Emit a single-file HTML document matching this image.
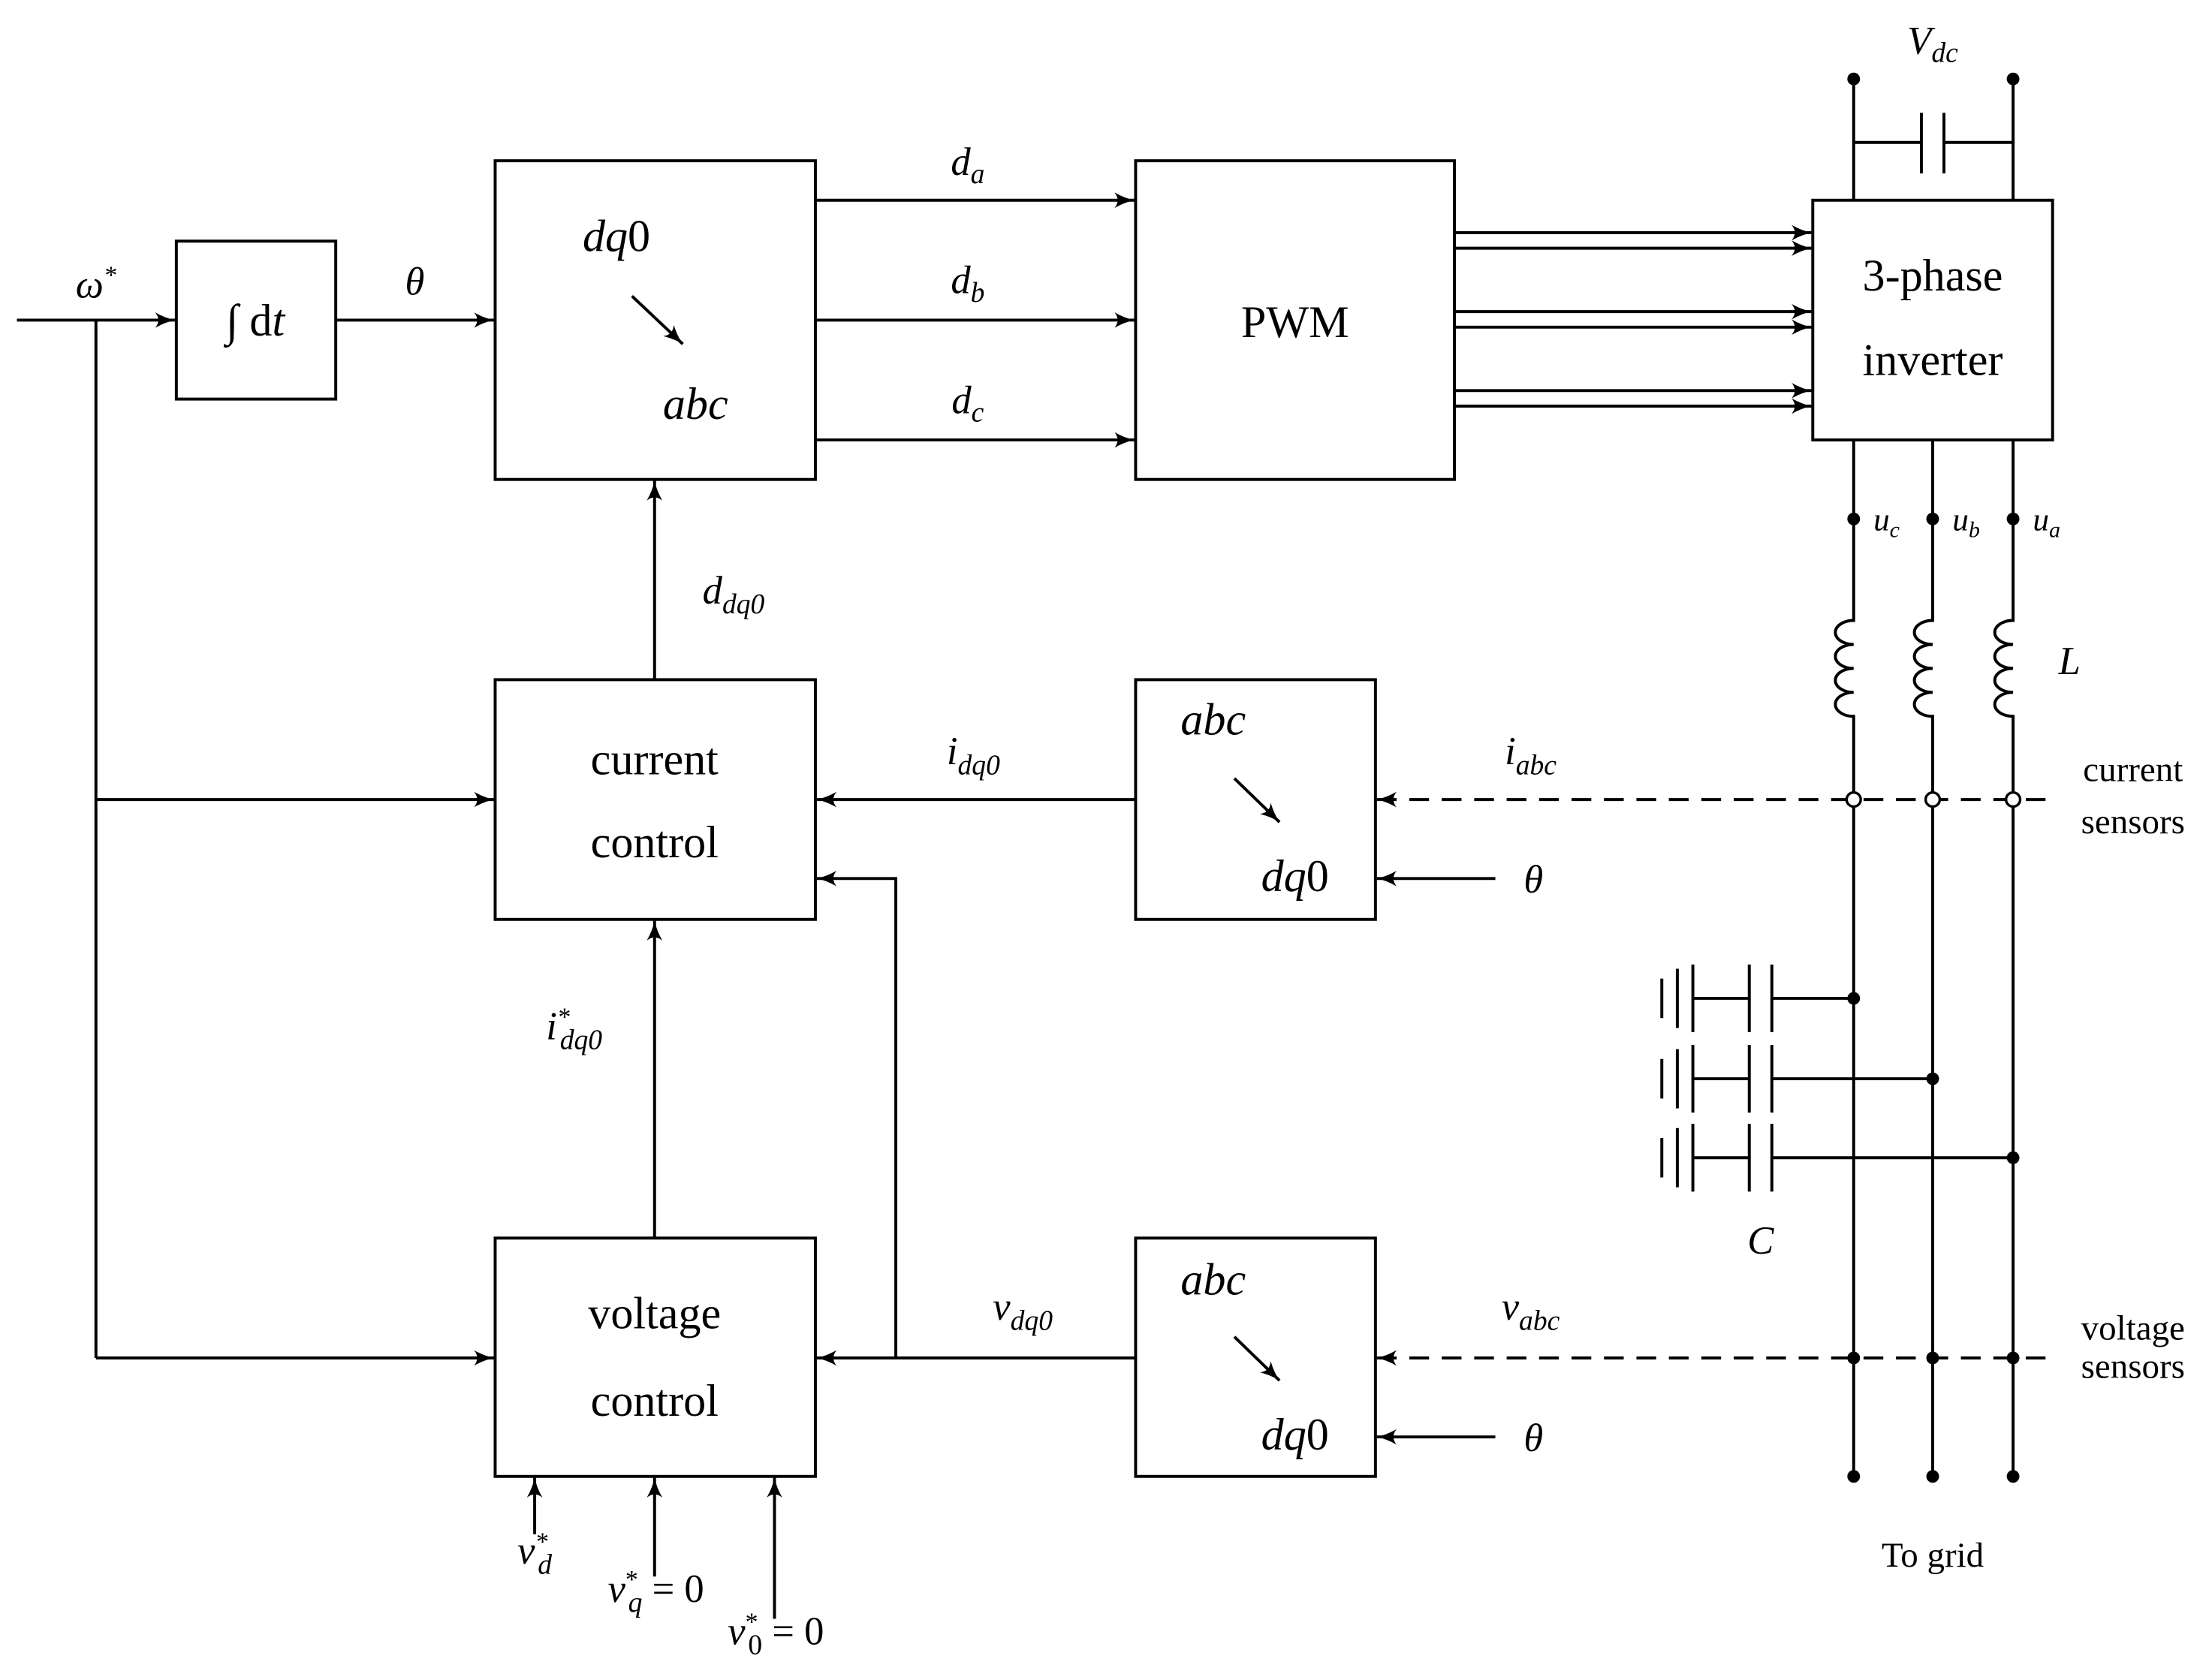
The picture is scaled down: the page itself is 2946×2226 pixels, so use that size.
<!DOCTYPE html>
<html><head><meta charset="utf-8"><style>
html,body{margin:0;padding:0;background:#fff}
svg{display:block}
text{font-family:"Liberation Serif",serif;fill:#000}
.m{font-style:italic}
</style></head><body>
<svg width="2946" height="2226" viewBox="0 0 1568 1185" preserveAspectRatio="none" xmlns="http://www.w3.org/2000/svg">
<defs>
<marker id="a" markerWidth="16" markerHeight="12" refX="14" refY="6" orient="auto" markerUnits="userSpaceOnUse">
<path d="M0,0.5 Q7,4.5 14,6 Q7,7.5 0,11.5 Q4.5,6 0,0.5Z" fill="#000"/>
</marker>
</defs>
<g stroke="#000" stroke-width="2.1" fill="none">
<rect x="125" y="171" width="113" height="112"/>
<rect x="351" y="114" width="227" height="226"/>
<rect x="805" y="114" width="226" height="226"/>
<rect x="1285" y="142" width="170" height="170"/>
<rect x="351" y="482" width="227" height="170"/>
<rect x="351" y="878" width="227" height="169"/>
<rect x="805" y="482" width="170" height="170"/>
<rect x="805" y="878" width="170" height="169"/>
<line x1="12" y1="227" x2="124" y2="227" marker-end="url(#a)"/>
<line x1="68" y1="227" x2="68" y2="963"/>
<line x1="68" y1="567" x2="350" y2="567" marker-end="url(#a)"/>
<line x1="68" y1="963" x2="350" y2="963" marker-end="url(#a)"/>
<line x1="238" y1="227" x2="350" y2="227" marker-end="url(#a)"/>
<line x1="578" y1="142" x2="804" y2="142" marker-end="url(#a)"/>
<line x1="578" y1="227" x2="804" y2="227" marker-end="url(#a)"/>
<line x1="578" y1="312" x2="804" y2="312" marker-end="url(#a)"/>
<line x1="1031" y1="165" x2="1284" y2="165" marker-end="url(#a)"/>
<line x1="1031" y1="176" x2="1284" y2="176" marker-end="url(#a)"/>
<line x1="1031" y1="221" x2="1284" y2="221" marker-end="url(#a)"/>
<line x1="1031" y1="232" x2="1284" y2="232" marker-end="url(#a)"/>
<line x1="1031" y1="277" x2="1284" y2="277" marker-end="url(#a)"/>
<line x1="1031" y1="288" x2="1284" y2="288" marker-end="url(#a)"/>
<line x1="448" y1="210" x2="484" y2="244" marker-end="url(#a)"/>
<line x1="875" y1="552" x2="907" y2="583" marker-end="url(#a)"/>
<line x1="875" y1="948" x2="907" y2="979" marker-end="url(#a)"/>
<line x1="464" y1="482" x2="464" y2="341" marker-end="url(#a)"/>
<line x1="464" y1="878" x2="464" y2="653" marker-end="url(#a)"/>
<line x1="805" y1="567" x2="579" y2="567" marker-end="url(#a)"/>
<line x1="805" y1="963" x2="579" y2="963" marker-end="url(#a)"/>
<polyline points="635,963 635,623 579,623" marker-end="url(#a)"/>
<line x1="1060" y1="623" x2="976" y2="623" marker-end="url(#a)"/>
<line x1="1060" y1="1019" x2="976" y2="1019" marker-end="url(#a)"/>
<line x1="379" y1="1088" x2="379" y2="1048" marker-end="url(#a)"/>
<line x1="464" y1="1118" x2="464" y2="1048" marker-end="url(#a)"/>
<line x1="549" y1="1148" x2="549" y2="1048" marker-end="url(#a)"/>
<line x1="1450" y1="567" x2="976" y2="567" stroke-dasharray="14,9" marker-end="url(#a)"/>
<line x1="1450" y1="963" x2="976" y2="963" stroke-dasharray="14,9" marker-end="url(#a)"/>
<line x1="1314" y1="56" x2="1314" y2="142"/>
<line x1="1427" y1="56" x2="1427" y2="142"/>
<line x1="1314" y1="101" x2="1362" y2="101"/>
<line x1="1378" y1="101" x2="1427" y2="101"/>
<line x1="1362" y1="80" x2="1362" y2="123"/>
<line x1="1378" y1="80" x2="1378" y2="123"/>
<path d="M1314,312 V440 a13,8.5 0 0 0 0,17 a13,8.5 0 0 0 0,17 a13,8.5 0 0 0 0,17 a13,8.5 0 0 0 0,17 V1047"/>
<path d="M1370,312 V440 a13,8.5 0 0 0 0,17 a13,8.5 0 0 0 0,17 a13,8.5 0 0 0 0,17 a13,8.5 0 0 0 0,17 V1047"/>
<path d="M1427,312 V440 a13,8.5 0 0 0 0,17 a13,8.5 0 0 0 0,17 a13,8.5 0 0 0 0,17 a13,8.5 0 0 0 0,17 V1047"/>
<g>
<line x1="1178" y1="694" x2="1178" y2="722"/><line x1="1189" y1="687" x2="1189" y2="729"/><line x1="1200" y1="684" x2="1200" y2="732"/>
<line x1="1200" y1="708" x2="1240" y2="708"/><line x1="1240" y1="684" x2="1240" y2="732"/><line x1="1256" y1="684" x2="1256" y2="732"/><line x1="1256" y1="708" x2="1314" y2="708"/>
</g>
<g>
<line x1="1178" y1="751" x2="1178" y2="779"/><line x1="1189" y1="744" x2="1189" y2="786"/><line x1="1200" y1="741" x2="1200" y2="789"/>
<line x1="1200" y1="765" x2="1240" y2="765"/><line x1="1240" y1="741" x2="1240" y2="789"/><line x1="1256" y1="741" x2="1256" y2="789"/><line x1="1256" y1="765" x2="1370" y2="765"/>
</g>
<g>
<line x1="1178" y1="807" x2="1178" y2="835"/><line x1="1189" y1="800" x2="1189" y2="842"/><line x1="1200" y1="797" x2="1200" y2="845"/>
<line x1="1200" y1="821" x2="1240" y2="821"/><line x1="1240" y1="797" x2="1240" y2="845"/><line x1="1256" y1="797" x2="1256" y2="845"/><line x1="1256" y1="821" x2="1427" y2="821"/>
</g>
</g>
<g fill="#000">
<circle cx="1314" cy="56" r="4.5"/><circle cx="1427" cy="56" r="4.5"/>
<circle cx="1314" cy="368" r="4.5"/><circle cx="1370" cy="368" r="4.5"/><circle cx="1427" cy="368" r="4.5"/>
<circle cx="1314" cy="708" r="4.5"/><circle cx="1370" cy="765" r="4.5"/><circle cx="1427" cy="821" r="4.5"/>
<circle cx="1314" cy="963" r="4.5"/><circle cx="1370" cy="963" r="4.5"/><circle cx="1427" cy="963" r="4.5"/>
<circle cx="1314" cy="1047" r="4.5"/><circle cx="1370" cy="1047" r="4.5"/><circle cx="1427" cy="1047" r="4.5"/>
</g>
<g fill="#fff" stroke="#000" stroke-width="1.8">
<circle cx="1314" cy="567" r="5"/><circle cx="1370" cy="567" r="5"/><circle cx="1427" cy="567" r="5"/>
</g>
<g font-size="32" text-anchor="middle">
<text x="918" y="239">PWM</text>
<text x="1370" y="206">3-phase</text>
<text x="1370" y="266">inverter</text>
<text x="464" y="549">current</text>
<text x="464" y="608">control</text>
<text x="464" y="942">voltage</text>
<text x="464" y="1004">control</text>
<text x="437" y="178"><tspan class="m">dq</tspan>0</text>
<text x="493" y="297" class="m">abc</text>
<text x="860" y="521" class="m">abc</text>
<text x="918" y="632"><tspan class="m">dq</tspan>0</text>
<text x="860" y="918" class="m">abc</text>
<text x="918" y="1028"><tspan class="m">dq</tspan>0</text>
<text x="181" y="238">∫ d<tspan class="m">t</tspan></text>
</g>
<g font-size="28" text-anchor="middle">
<text x="68" y="211" class="m">ω<tspan font-size="18" dy="-10">*</tspan></text>
<text x="294" y="209" class="m">θ</text>
<text x="686" y="124" class="m">d<tspan font-size="20" dy="6">a</tspan></text>
<text x="686" y="208" class="m">d<tspan font-size="20" dy="6">b</tspan></text>
<text x="686" y="293" class="m">d<tspan font-size="20" dy="6">c</tspan></text>
<text x="1370" y="38" class="m">V<tspan font-size="20" dy="6">dc</tspan></text>
<text x="1467" y="478" class="m">L</text>
<text x="1248" y="889" class="m">C</text>
<text x="520" y="428" class="m">d<tspan font-size="20" dy="7">dq0</tspan></text>
<text x="690" y="542" class="m">i<tspan font-size="20" dy="7">dq0</tspan></text>
<text x="1085" y="542" class="m">i<tspan font-size="20" dy="7">abc</tspan></text>
<text x="407" y="737" class="m">i<tspan font-size="18" dy="-10">*</tspan><tspan font-size="20" dx="-7" dy="17">dq0</tspan></text>
<text x="725" y="936" class="m">v<tspan font-size="20" dy="7">dq0</tspan></text>
<text x="1085" y="936" class="m">v<tspan font-size="20" dy="7">abc</tspan></text>
<text x="1087" y="633" class="m">θ</text>
<text x="1087" y="1029" class="m">θ</text>
<text x="379" y="1109" class="m">v<tspan font-size="18" dy="-10">*</tspan><tspan font-size="20" dx="-7" dy="17">d</tspan></text>
<text x="465" y="1136"><tspan class="m">v</tspan><tspan font-size="18" dy="-10">*</tspan><tspan font-size="20" dx="-7" dy="17" class="m">q</tspan><tspan dy="-7"> = 0</tspan></text>
<text x="550" y="1166"><tspan class="m">v</tspan><tspan font-size="18" dy="-10">*</tspan><tspan font-size="20" dx="-7" dy="17">0</tspan><tspan dy="-7"> = 0</tspan></text>
</g>
<g font-size="23" class="m">
<text x="1328" y="376">u<tspan font-size="16" dy="5">c</tspan></text>
<text x="1384" y="376">u<tspan font-size="16" dy="5">b</tspan></text>
<text x="1441" y="376">u<tspan font-size="16" dy="5">a</tspan></text>
</g>
<g font-size="25" text-anchor="middle">
<text x="1512" y="554">current</text>
<text x="1512" y="591">sensors</text>
<text x="1512" y="950">voltage</text>
<text x="1512" y="977">sensors</text>
<text x="1370" y="1111">To grid</text>
</g>
</svg>
</body></html>
